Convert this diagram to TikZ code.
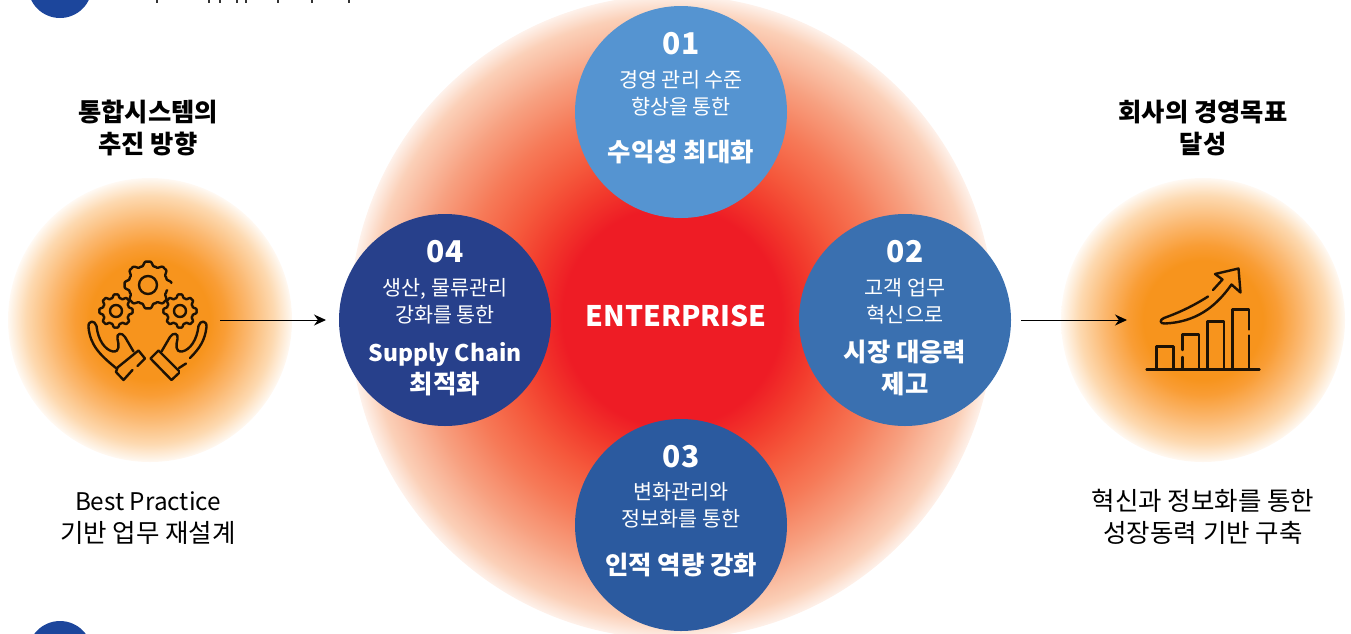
\documentclass[tikz,border=0pt]{standalone}
\usepackage{fontspec}
\setmainfont{Noto Sans CJK KR}
\usetikzlibrary{arrows.meta}
\definecolor{glowred}{HTML}{EE1C25}
\definecolor{glowa}{HTML}{F23A2C}
\definecolor{glowb}{HTML}{F5593C}
\definecolor{glowc}{HTML}{F67A58}
\definecolor{glowd}{HTML}{F7A080}
\definecolor{glowe}{HTML}{FBD0B8}
\definecolor{gloworange}{HTML}{F7941D}
\definecolor{sidea}{HTML}{F99D35}
\definecolor{sideb}{HTML}{FBB76E}
\definecolor{sidec}{HTML}{FDD9B0}
\definecolor{goalone}{HTML}{5594D1}
\definecolor{goaltwo}{HTML}{3A70B0}
\definecolor{goalthree}{HTML}{2B5A9F}
\definecolor{goalfour}{HTML}{27408B}
\definecolor{headblue}{HTML}{1C469C}
\pgfdeclareradialshading{enterpriseglow}{\pgfpoint{0bp}{0bp}}{
  color(0bp)=(glowred);
  color(8.5bp)=(glowred);
  color(11bp)=(glowa);
  color(13.6bp)=(glowb);
  color(16.8bp)=(glowc);
  color(20bp)=(glowd);
  color(23.5bp)=(glowe);
  color(25.6bp)=(white);
  color(50bp)=(white)}
\pgfdeclareradialshading{sideglow}{\pgfpoint{0bp}{0bp}}{
  color(0bp)=(gloworange);
  color(10.5bp)=(gloworange);
  color(13.2bp)=(sidea);
  color(17.3bp)=(sideb);
  color(21.8bp)=(sidec);
  color(25.6bp)=(white);
  color(50bp)=(white)}
\tikzset{>={Stealth[length=12pt,width=11pt]},samples=200,
  goal/.style={circle,minimum size=212pt,inner sep=0pt},
  txt/.style={inner sep=0pt},
  num/.style={txt,text=white,text height=22pt,text depth=2pt,font=\fontsize{30}{30}\selectfont\bfseries},
  sub/.style={txt,text=white,text height=17.5pt,text depth=2pt,font=\fontsize{20.7}{21}\selectfont},
  lead/.style={txt,text=white,text height=23pt,text depth=2.4pt,font=\fontsize{25.4}{26}\selectfont\bfseries},
  head/.style={txt,text=black,text height=22pt,text depth=2.4pt,font=\fontsize{25.3}{26}\selectfont\bfseries},
  note/.style={txt,text=black,text height=22pt,text depth=2.4pt,font=\fontsize{25.5}{26}\selectfont},
  icon/.style={line width=2.4pt,line cap=round,line join=round,black!88!gloworange}}
\begin{document}
\begin{tikzpicture}[x=1pt,y=-1pt]
  \useasboundingbox (0,0) rectangle (1351,633);
  \clip (0,0) rectangle (1351,633);
  \shade [shading=enterpriseglow] (672,317) circle [radius=322];
  \shade [shading=sideglow] (150,320) circle [radius=142];
  \shade [shading=sideglow] (1203,320) circle [radius=142];
  \fill [headblue] (60,-14) circle [radius=32];
  \fill [headblue] (60,653) circle [radius=32];
  \foreach \x in {157,209,220,237,246,278,312,349}
  \fill [black!80] (\x-1,0) rectangle (\x+1,3);

  \node [goal,fill=goalone] (goal01) at (681,112) {};
  \node [goal,fill=goaltwo] (goal02) at (905,320) {};
  \node [goal,fill=goalthree] (goal03) at (681,525) {};
  \node [goal,fill=goalfour] (goal04) at (445,320) {};

  \node [num] (num01) at (681,44) {01};
  \node [sub] (sub01a) at (681,80) {경영 관리 수준};
  \node [sub] (sub01b) at (681,107) {향상을 통한};
  \node [lead] (lead01) at (681,151) {수익성 최대화};

  \node [num] (num02) at (905,252) {02};
  \node [sub] (sub02a) at (905,288) {고객 업무};
  \node [sub] (sub02b) at (905,315) {혁신으로};
  \node [lead] (lead02a) at (905,351) {시장 대응력};
  \node [lead] (lead02b) at (905,383) {제고};

  \node [num] (num03) at (681,457) {03};
  \node [sub] (sub03a) at (681,492) {변화관리와};
  \node [sub] (sub03b) at (681,519) {정보화를 통한};
  \node [lead] (lead03) at (681,564) {인적 역량 강화};

  \node [num] (num04) at (445,252) {04};
  \node [sub] (sub04a) at (445,288) {생산, 물류관리};
  \node [sub] (sub04b) at (445,315) {강화를 통한};
  \node [lead,font=\fontsize{22.9}{24}\selectfont\bfseries] (lead04a) at (445,351) {Supply Chain};
  \node [lead] (lead04b) at (445,383) {최적화};

  \node [txt,text=white,text height=22pt,text depth=2pt,font=\fontsize{28.3}{30}\selectfont\bfseries] (enterprise) at (676,316) {ENTERPRISE};

  \node [head] (headL1) at (148,112) {통합시스템의};
  \node [head] (headL2) at (148,144) {추진 방향};
  \node [head] (headR1) at (1203,112) {회사의 경영목표};
  \node [head] (headR2) at (1203,144) {달성};
  \node [note,font=\fontsize{24.3}{25}\selectfont] (noteL1) at (148,501) {Best Practice};
  \node [note] (noteL2) at (148,533) {기반 업무 재설계};
  \node [note] (noteR1) at (1203,501) {혁신과 정보화를 통한};
  \node [note] (noteR2) at (1203,533) {성장동력 기반 구축};

  \coordinate (arrowLs) at (220,320);
  \coordinate (arrowLe) at (326,320);
  \coordinate (arrowRs) at (1021,320);
  \coordinate (arrowRe) at (1127,320);
  \draw [->,line width=1pt] (arrowLs) -- (arrowLe);
  \draw [->,line width=1pt] (arrowRs) -- (arrowRe);

  \draw [icon,domain=15:355]
  plot({148+(21.5+2.3*(cos(8*\x)-cos(24*\x)/5))*cos(\x)},{285+(21.5+2.3*(cos(8*\x)-cos(24*\x)/5))*sin(\x)});
  \draw [icon,domain=0:360]
  plot({116+(15+1.9*(cos(8*\x)-cos(24*\x)/5))*cos(\x)},{311+(15+1.9*(cos(8*\x)-cos(24*\x)/5))*sin(\x)});
  \draw [icon,domain=0:360]
  plot({180+(15+1.9*(cos(8*\x)-cos(24*\x)/5))*cos(\x)},{311+(15+1.9*(cos(8*\x)-cos(24*\x)/5))*sin(\x)});
  \draw [icon] (148,285) circle [radius=9];
  \draw [icon] (116,311) circle [radius=6];
  \draw [icon] (180,311) circle [radius=6];

  \draw [icon] (116,368) .. controls (100,355) and (90,345) .. (88.5,327)
  .. controls (88,320) and (95,320) .. (96.5,326)
  .. controls (98,340) and (105,350) .. (113,351.5)
  .. controls (120,352) and (119,345) .. (117.5,339)
  .. controls (116,333) and (122,332) .. (125,337)
  -- (133.5,351.5);
  \draw [icon] (117.5,367.5) -- (138.5,350.5) -- (145,358.5) -- (137.5,366);
  \draw [icon] (132.5,370) -- (123.5,380) -- (116,372) -- (117.5,367.5);

  \draw [icon] (179,368) -- (186,363.5);
  \draw [icon] (190,358) .. controls (200,348) and (205,340) .. (206.5,327)
  .. controls (207,320) and (200,320) .. (198.5,326)
  .. controls (197,340) and (190,350) .. (182,351.5)
  .. controls (175,352) and (176,345) .. (177.5,339)
  .. controls (179,333) and (173,332) .. (170,337)
  -- (161.5,351.5);
  \draw [icon] (179,371) -- (158.5,350.5) -- (150.5,358.5) -- (171.5,380) -- (179,373);

  \draw [icon] (1146.5,369.5) -- (1259.5,369.5);
  \draw [icon] (1156.5,369.5) -- (1156.5,346.5) -- (1173.5,346.5) -- (1173.5,369.5);
  \draw [icon] (1182.5,369.5) -- (1182.5,357);
  \draw [icon] (1182.5,350) -- (1182.5,334.5) -- (1199,334.5) -- (1199,369.5);
  \draw [icon] (1207.5,369.5) -- (1207.5,321.5) -- (1224,321.5) -- (1224,369.5);
  \draw [icon] (1232.5,369.5) -- (1232.5,309.5) -- (1249,309.5) -- (1249,329.5);
  \draw [icon] (1249,335.5) -- (1249,369.5);
  \draw [icon] (1208,296.5) .. controls (1190,308) and (1175,314) .. (1164,318)
  .. controls (1159,320) and (1160,324) .. (1165,323.5)
  .. controls (1195,322) and (1215,308) .. (1231.5,284.5)
  -- (1240.5,292.5) -- (1238.5,268.5) -- (1215,274) -- (1222.5,279.5) -- (1213,290);
\end{tikzpicture}
\end{document}
